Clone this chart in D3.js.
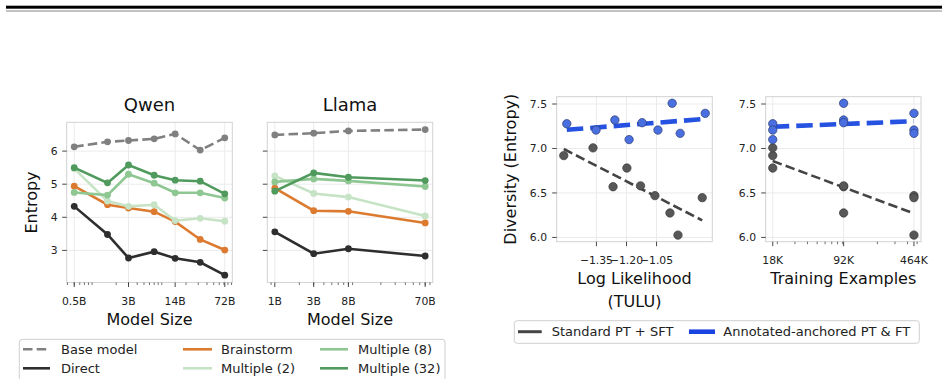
<!DOCTYPE html>
<html>
<head>
<meta charset="utf-8">
<script src="https://cdn.jsdelivr.net/npm/d3@7"></script>
<style>
  body { margin: 0; background: #fff; }
  svg { display: block; font-family: "DejaVu Sans", sans-serif; }
</style>
</head>
<body>
<svg id="chart" width="948" height="379"></svg>
<script>
// ---- data ----
const methods = ["Base model", "Direct", "Brainstorm", "Multiple (2)", "Multiple (8)", "Multiple (32)"];

const qwenSizes = [0.5, 1.5, 3, 7, 14, 32, 72];
const qwenTicks = [0.5, 3, 14, 72];
const qwenBase = [6.13, 6.28, 6.32, 6.37, 6.52, 6.03, 6.40];
const qwenDirect = [4.33, 3.48, 2.77, 2.96, 2.76, 2.64, 2.25];
const qwenBrainstorm = [4.94, 4.38, 4.28, 4.17, 3.87, 3.33, 3.01];
const qwenMult2 = [5.47, 4.49, 4.33, 4.38, 3.90, 3.97, 3.88];
const qwenMult8 = [4.75, 4.67, 5.30, 5.03, 4.74, 4.74, 4.58];
const qwenMult32 = [5.50, 5.04, 5.58, 5.27, 5.12, 5.09, 4.71];

const llamaSizes = [1, 3, 8, 70];
const llamaTicks = [1, 3, 8, 70];
const llamaBase = [6.49, 6.54, 6.61, 6.65];
const llamaDirect = [3.56, 2.90, 3.05, 2.83];
const llamaBrainstorm = [4.88, 4.20, 4.18, 3.83];
const llamaMult2 = [5.25, 4.72, 4.61, 4.04];
const llamaMult8 = [5.07, 5.16, 5.10, 4.93];
const llamaMult32 = [4.79, 5.34, 5.21, 5.11];

const entropyTicks = [3, 4, 5, 6];

// right-hand pair: standard vs annotated-anchored
const stdLogLik = [-1.513, -1.367, -1.267, -1.198, -1.130, -1.058, -0.983, -0.943, -0.822];
const stdEntropy = [6.92, 7.007, 6.57, 6.78, 6.58, 6.47, 6.275, 6.026, 6.447];
const stdTrain = [18000, 18000, 92000, 18000, 92000, 464000, 92000, 464000, 464000];
const annLogLik = [-1.498, -1.352, -1.258, -1.187, -1.122, -1.043, -0.972, -0.932, -0.807];
const annEntropy = [7.278, 7.207, 7.32, 7.10, 7.29, 7.207, 7.508, 7.17, 7.395];
const annTrain = [18000, 18000, 92000, 18000, 92000, 464000, 92000, 464000, 464000];

const logLikTicks = [-1.35, -1.20, -1.05];
const trainTicks = [18000, 92000, 464000];
const trainTickLabels = ["18K", "92K", "464K"];
const diversityTicks = [6.0, 6.5, 7.0, 7.5];

const modelLegend = ["Base model", "Direct", "Brainstorm", "Multiple (2)", "Multiple (8)", "Multiple (32)"];
const fitLegend = ["Standard PT + SFT", "Annotated-anchored PT & FT"];

// ---- styles ----
const methodColor = {
  "Base model": "#808080", "Direct": "#2e2e2e", "Brainstorm": "#dc7b30",
  "Multiple (2)": "#c6e3c6", "Multiple (8)": "#8fc793", "Multiple (32)": "#4f9a5c"
};
const gridColor = "#ebebeb", spineColor = "#d2d2d2", tickColor = "#333";
const stdColor = "#444", annColor = "#2652e2";

const svg = d3.select("#chart");

// page rules at the top
svg.append("rect").attr("x", 6).attr("y", 5.7).attr("width", 936).attr("height", 3).attr("fill", "#000");
svg.append("rect").attr("x", 6).attr("y", 10.4).attr("width", 936).attr("height", 1.2).attr("fill", "#9a9a9a");

function padLinear(lo, hi) { const p = (hi - lo) * 0.05; return [lo - p, hi + p]; }
function padLog(lo, hi) {
  const a = Math.log10(lo), b = Math.log10(hi), p = (b - a) * 0.05;
  return [Math.pow(10, a - p), Math.pow(10, b + p)];
}
function minorLogTicks(dom) {
  const out = [];
  for (let e = Math.floor(Math.log10(dom[0])); e <= Math.ceil(Math.log10(dom[1])); e++) {
    for (let s = 2; s <= 9; s++) {
      const v = s * Math.pow(10, e);
      if (v >= dom[0] && v <= dom[1]) out.push(v);
    }
  }
  return out;
}

// draws frame, grid, ticks; returns group
function frame(box, x, y, xt, xlab, yt, ylab, minor) {
  const g = svg.append("g");
  g.selectAll(".gx").data(xt).enter().append("line")
    .attr("x1", d => x(d)).attr("x2", d => x(d))
    .attr("y1", box.top).attr("y2", box.bottom)
    .attr("stroke", gridColor).attr("stroke-width", 1);
  g.selectAll(".gy").data(yt).enter().append("line")
    .attr("y1", d => y(d)).attr("y2", d => y(d))
    .attr("x1", box.left).attr("x2", box.right)
    .attr("stroke", gridColor).attr("stroke-width", 1);
  g.append("rect").attr("x", box.left).attr("y", box.top)
    .attr("width", box.right - box.left).attr("height", box.bottom - box.top)
    .attr("fill", "none").attr("stroke", spineColor).attr("stroke-width", 1);
  // ticks
  g.selectAll(".tx").data(xt).enter().append("line")
    .attr("x1", d => x(d)).attr("x2", d => x(d))
    .attr("y1", box.bottom).attr("y2", box.bottom + 4.5)
    .attr("stroke", tickColor).attr("stroke-width", 0.9);
  if (minor) {
    g.selectAll(".mx").data(minor).enter().append("line")
      .attr("x1", d => x(d)).attr("x2", d => x(d))
      .attr("y1", box.bottom).attr("y2", box.bottom + 2.5)
      .attr("stroke", tickColor).attr("stroke-width", 0.7);
  }
  g.selectAll(".ty").data(yt).enter().append("line")
    .attr("y1", d => y(d)).attr("y2", d => y(d))
    .attr("x1", box.left - 4.5).attr("x2", box.left)
    .attr("stroke", tickColor).attr("stroke-width", 0.9);
  g.selectAll(".lx").data(xt).enter().append("text")
    .attr("x", d => x(d)).attr("y", box.xTickY)
    .attr("text-anchor", "middle").attr("font-size", 10.8).attr("fill", "#222")
    .text((d, i) => xlab[i]);
  if (ylab) {
    g.selectAll(".ly").data(yt).enter().append("text")
      .attr("x", box.yTickX).attr("y", d => y(d)).attr("dy", "0.36em")
      .attr("text-anchor", "end").attr("font-size", 10.8).attr("fill", "#222")
      .text((d, i) => ylab[i]);
  }
  return g;
}

// ---- left pair: Qwen and Llama ----
const allEntropy = [].concat(qwenBase, qwenDirect, qwenBrainstorm, qwenMult2, qwenMult8, qwenMult32,
  llamaBase, llamaDirect, llamaBrainstorm, llamaMult2, llamaMult8, llamaMult32);
const yEnt = d3.scaleLinear().domain(padLinear(d3.min(allEntropy), d3.max(allEntropy))).range([282.5, 122.3]);

const modelPanels = [
  { title: "Qwen", sizes: qwenSizes, ticks: qwenTicks,
    series: [qwenBase, qwenDirect, qwenBrainstorm, qwenMult2, qwenMult8, qwenMult32],
    box: { left: 66.7, right: 232.3, top: 122.3, bottom: 282.5, xTickY: 304.5, yTickX: 57.5 }, showY: true },
  { title: "Llama", sizes: llamaSizes, ticks: llamaTicks,
    series: [llamaBase, llamaDirect, llamaBrainstorm, llamaMult2, llamaMult8, llamaMult32],
    box: { left: 267.3, right: 432.7, top: 122.3, bottom: 282.5, xTickY: 304.5, yTickX: 258 }, showY: false }
];

modelPanels.forEach(p => {
  const dom = padLog(d3.min(p.sizes), d3.max(p.sizes));
  const x = d3.scaleLog().domain(dom).range([p.box.left, p.box.right]);
  const g = frame(p.box, x, yEnt, p.ticks, p.ticks.map(d => d + "B"),
    entropyTicks, p.showY ? entropyTicks.map(String) : null, minorLogTicks(dom));
  const line = d3.line().x(d => x(d[0])).y(d => yEnt(d[1]));
  p.series.forEach((vals, si) => {
    const m = methods[si];
    const pts = p.sizes.map((s, i) => [s, vals[i]]);
    g.append("path").attr("d", line(pts)).attr("fill", "none")
      .attr("stroke", methodColor[m]).attr("stroke-width", 2.6)
      .attr("stroke-dasharray", m === "Base model" ? "9.5,4.2" : null);
    g.selectAll(".pt" + si).data(pts).enter().append("circle")
      .attr("cx", d => x(d[0])).attr("cy", d => yEnt(d[1])).attr("r", 3.4)
      .attr("fill", methodColor[m]);
  });
  const cx = (p.box.left + p.box.right) / 2;
  svg.append("text").attr("x", cx).attr("y", 110.8).attr("text-anchor", "middle")
    .attr("font-size", 18).attr("fill", "#111").text(p.title);
  svg.append("text").attr("x", cx).attr("y", 325).attr("text-anchor", "middle")
    .attr("font-size", 16).attr("fill", "#111").text("Model Size");
});
svg.append("text").attr("transform", "translate(36.8,202.5) rotate(-90)")
  .attr("text-anchor", "middle").attr("font-size", 16).attr("fill", "#111").text("Entropy");

// legend for models
const lg = svg.append("g");
lg.append("rect").attr("x", 19.3).attr("y", 339.3).attr("width", 425.7).attr("height", 60)
  .attr("rx", 3).attr("fill", "#fff").attr("stroke", "#cfcfcf").attr("stroke-width", 1);
const legCols = [[23, 50, 61], [183, 212, 221], [320, 348, 358]];
const legRows = [349.3, 368.3];
modelLegend.forEach((m, i) => {
  const c = legCols[Math.floor(i / 2)], r = legRows[i % 2];
  lg.append("line").attr("x1", c[0]).attr("x2", c[1]).attr("y1", r).attr("y2", r)
    .attr("stroke", methodColor[m]).attr("stroke-width", 2.6)
    .attr("stroke-dasharray", m === "Base model" ? "9.5,4.2" : null);
  lg.append("text").attr("x", c[2]).attr("y", r).attr("dy", "0.36em")
    .attr("font-size", 13).attr("fill", "#222").text(m);
});

// ---- right pair: diversity vs log likelihood / training examples ----
function fit(xs, ys) {
  const mx = d3.mean(xs), my = d3.mean(ys);
  let sxy = 0, sxx = 0;
  xs.forEach((v, i) => { sxy += (v - mx) * (ys[i] - my); sxx += (v - mx) * (v - mx); });
  const b = sxy / sxx;
  return v => my + b * (v - mx);
}

const allDiv = stdEntropy.concat(annEntropy);
const yDiv = d3.scaleLinear().domain(padLinear(d3.min(allDiv), d3.max(allDiv))).range([241.7, 96.7]);

const allLL = stdLogLik.concat(annLogLik);
const xLL = d3.scaleLinear().domain(padLinear(d3.min(allLL), d3.max(allLL))).range([556.7, 712.3]);
const allTrain = stdTrain.concat(annTrain);
const trainDom = padLog(d3.min(allTrain), d3.max(allTrain));
const xTr = d3.scaleLog().domain(trainDom).range([765.7, 921]);

const divPanels = [
  { x: xLL, tf: v => v, xt: logLikTicks, xl: logLikTicks.map(d => "\u2212" + Math.abs(d).toFixed(2)),
    sx: stdLogLik, ax: annLogLik, minor: null,
    box: { left: 556.7, right: 712.3, top: 96.7, bottom: 241.7, xTickY: 263.5, yTickX: 547 } },
  { x: xTr, tf: v => Math.log10(v), xt: trainTicks, xl: trainTickLabels,
    sx: stdTrain, ax: annTrain, minor: minorLogTicks(trainDom),
    box: { left: 765.7, right: 921, top: 96.7, bottom: 241.7, xTickY: 263.5, yTickX: 756 } }
];

divPanels.forEach(p => {
  const g = frame(p.box, p.x, yDiv, p.xt, p.xl, diversityTicks, diversityTicks.map(d => d.toFixed(1)), p.minor);
  const groups = [
    { xs: p.sx, ys: stdEntropy, line: stdColor, lw: 2.6, dash: "9.5,4.2", fill: "#575757", edge: "#3a3a3a" },
    { xs: p.ax, ys: annEntropy, line: annColor, lw: 4.6, dash: "16.5,7", fill: "#4a6fe0", edge: "#2d3c6e" }
  ];
  groups.forEach(gr => {
    const f = fit(gr.xs.map(p.tf), gr.ys);
    const ends = d3.extent(gr.xs);
    g.append("line")
      .attr("x1", p.x(ends[0])).attr("y1", yDiv(f(p.tf(ends[0]))))
      .attr("x2", p.x(ends[1])).attr("y2", yDiv(f(p.tf(ends[1]))))
      .attr("stroke", gr.line).attr("stroke-width", gr.lw).attr("stroke-dasharray", gr.dash);
  });
  groups.forEach(gr => {
    g.selectAll(null).data(gr.xs.map((v, i) => [v, gr.ys[i]])).enter().append("circle")
      .attr("cx", d => p.x(d[0])).attr("cy", d => yDiv(d[1])).attr("r", 4.2)
      .attr("fill", gr.fill).attr("stroke", gr.edge).attr("stroke-width", 0.7);
  });
});

svg.append("text").attr("transform", "translate(515.5,169.2) rotate(-90)")
  .attr("text-anchor", "middle").attr("font-size", 16).attr("fill", "#111").text("Diversity (Entropy)");
svg.append("text").attr("x", 634.5).attr("y", 284).attr("text-anchor", "middle")
  .attr("font-size", 16).attr("fill", "#111").text("Log Likelihood");
svg.append("text").attr("x", 634.5).attr("y", 306.5).attr("text-anchor", "middle")
  .attr("font-size", 16).attr("fill", "#111").text("(TULU)");
svg.append("text").attr("x", 843.3).attr("y", 284).attr("text-anchor", "middle")
  .attr("font-size", 16).attr("fill", "#111").text("Training Examples");

// legend for fits
const fg = svg.append("g");
fg.append("rect").attr("x", 514.3).attr("y", 320.7).attr("width", 405).attr("height", 22.6)
  .attr("rx", 3).attr("fill", "#fff").attr("stroke", "#cfcfcf").attr("stroke-width", 1);
const fitHandles = [[518, 541.7, 551.7, stdColor, 3], [689, 715, 723.3, "#1a44e0", 4.6]];
fitLegend.forEach((t, i) => {
  const h = fitHandles[i];
  fg.append("line").attr("x1", h[0]).attr("x2", h[1]).attr("y1", 331.7).attr("y2", 331.7)
    .attr("stroke", h[3]).attr("stroke-width", h[4]);
  fg.append("text").attr("x", h[2]).attr("y", 331.7).attr("dy", "0.36em")
    .attr("font-size", 13).attr("fill", "#222").text(t);
});
</script>
</body>
</html>
